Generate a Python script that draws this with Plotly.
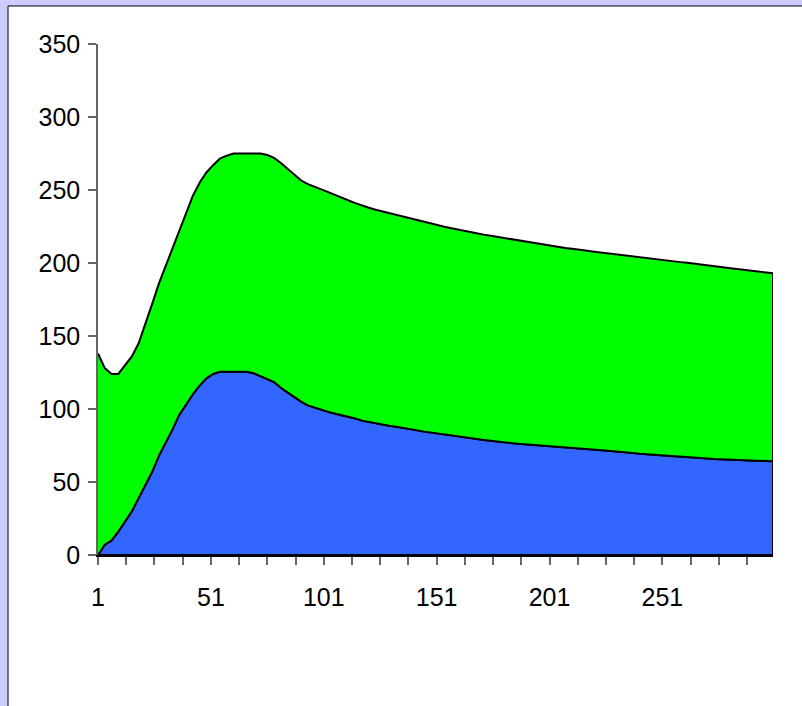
import plotly.graph_objects as go

# category positions (every 3rd of 300 points, plus the last one)
x_points = list(range(1, 299, 3)) + [300]

# lower series (blue)
blue_values = [
    0, 7, 10, 16, 23, 30, 39, 48, 57, 68,
    77, 86, 96, 103, 110, 116, 121, 124, 125.5, 125.5,
    125.5, 125.5, 125.5, 124.5, 122.5, 120.5, 118.5, 114.5, 111, 108,
    105, 102.5, 101, 99.5, 98, 96.5, 95.5, 94.5, 93.5, 92,
    91, 90.2, 89.4, 88.6, 87.9, 87.2, 86.4, 85.4, 84.6, 84,
    83.3, 82.8, 82.2, 81.5, 80.8, 80.1, 79.4, 78.8, 78.2, 77.6,
    77.1, 76.6, 76.2, 75.8, 75.4, 75, 74.6, 74.2, 73.9, 73.6,
    73.3, 73, 72.6, 72.3, 72, 71.7, 71.4, 70.9, 70.4, 69.9,
    69.4, 69, 68.6, 68.3, 68, 67.6, 67.3, 67, 66.7, 66.4,
    66.1, 65.8, 65.5, 65.3, 65.1, 64.9, 64.7, 64.5, 64.4, 64.3,
    64.2,
]

# upper series (green), stacked on top of blue
green_values = [
    138, 121, 114, 108, 107, 106, 106, 110, 115, 118,
    121, 124, 126, 132, 136, 139, 141, 143, 146, 148,
    149.5, 149.5, 149.5, 150.5, 152.5, 153.5, 153.5, 154, 153.5, 152,
    151.5, 151.5, 151, 150.5, 150.5, 150.2, 149, 148.3, 147.5, 147.3,
    146.8, 146.3, 145.9, 145.6, 145.3, 145, 144.4, 144, 143.6, 143,
    142.7, 142.2, 141.8, 141.5, 141.2, 140.9, 140.8, 140.6, 140.4, 140.2,
    139.9, 139.6, 139.2, 138.8, 138.4, 138.1, 137.8, 137.5, 137.1, 136.7,
    136.4, 136.3, 135.9, 135.6, 135.3, 135.1, 134.9, 134.8, 134.7, 134.6,
    134.5, 134.3, 134.2, 133.9, 133.7, 133.5, 133.3, 133.1, 132.9, 132.6,
    132.4, 132.2, 131.8, 131.4, 131, 130.6, 130.2, 129.7, 129.2, 128.8,
    128.7,
]

x_tick_values = [1 + 12.5 * k for k in range(24)]
x_tick_labels = ["1", "", "", "", "51", "", "", "", "101", "", "", "",
                 "151", "", "", "", "201", "", "", "", "251", "", "", ""]

assert len(x_points) == len(blue_values) == len(green_values)

top_values = [b + g for b, g in zip(blue_values, green_values)]

fig = go.Figure()

# blue area as a closed polygon so the outline runs round it like Excel
fig.add_trace(go.Scatter(
    x=x_points + [x_points[-1], x_points[0]],
    y=blue_values + [0, 0],
    fill="toself",
    fillcolor="#3366FF",
    mode="lines",
    line=dict(color="black", width=2),
    name="Series 1",
))

# green area between the blue curve and the total
fig.add_trace(go.Scatter(
    x=x_points + x_points[::-1],
    y=top_values + blue_values[::-1],
    fill="toself",
    fillcolor="#00FF00",
    mode="lines",
    line=dict(color="black", width=2),
    name="Series 2",
))

# white chart area with a black frame on a lavender page
fig.add_shape(
    type="rect", xref="paper", yref="paper",
    x0=-0.1333, x1=1.2, y0=-0.5, y1=1.0744,
    fillcolor="white", line=dict(color="black", width=1), layer="below",
)

fig.update_layout(
    width=802,
    height=706,
    paper_bgcolor="#CCCCFF",
    plot_bgcolor="white",
    showlegend=False,
    margin=dict(l=98, r=29, t=44, b=151),
    font=dict(family="Liberation Sans, Arial", size=25, color="black"),
    xaxis=dict(
        range=[1, 300],
        tickmode="array",
        tickvals=x_tick_values,
        ticktext=x_tick_labels,
        ticks="outside",
        ticklen=8,
        tickcolor="#666666",
        tickwidth=1.5,
        showline=True,
        linecolor="black",
        linewidth=2,
        showgrid=False,
        zeroline=False,
        automargin=False,
        ticklabelstandoff=11,
    ),
    yaxis=dict(
        range=[0, 350],
        dtick=50,
        ticks="outside",
        ticklen=8,
        tickcolor="#666666",
        tickwidth=1.5,
        showline=True,
        linecolor="#666666",
        linewidth=1.5,
        showgrid=False,
        zeroline=False,
        automargin=False,
        ticklabelstandoff=3,
    ),
)

# drop the browser's default page margin so the figure sits at the corner
fig.write_html(
    "out.html",
    config={"displayModeBar": False},
    post_script="document.body.style.margin='0';document.body.style.background='#CCCCFF';",
)
